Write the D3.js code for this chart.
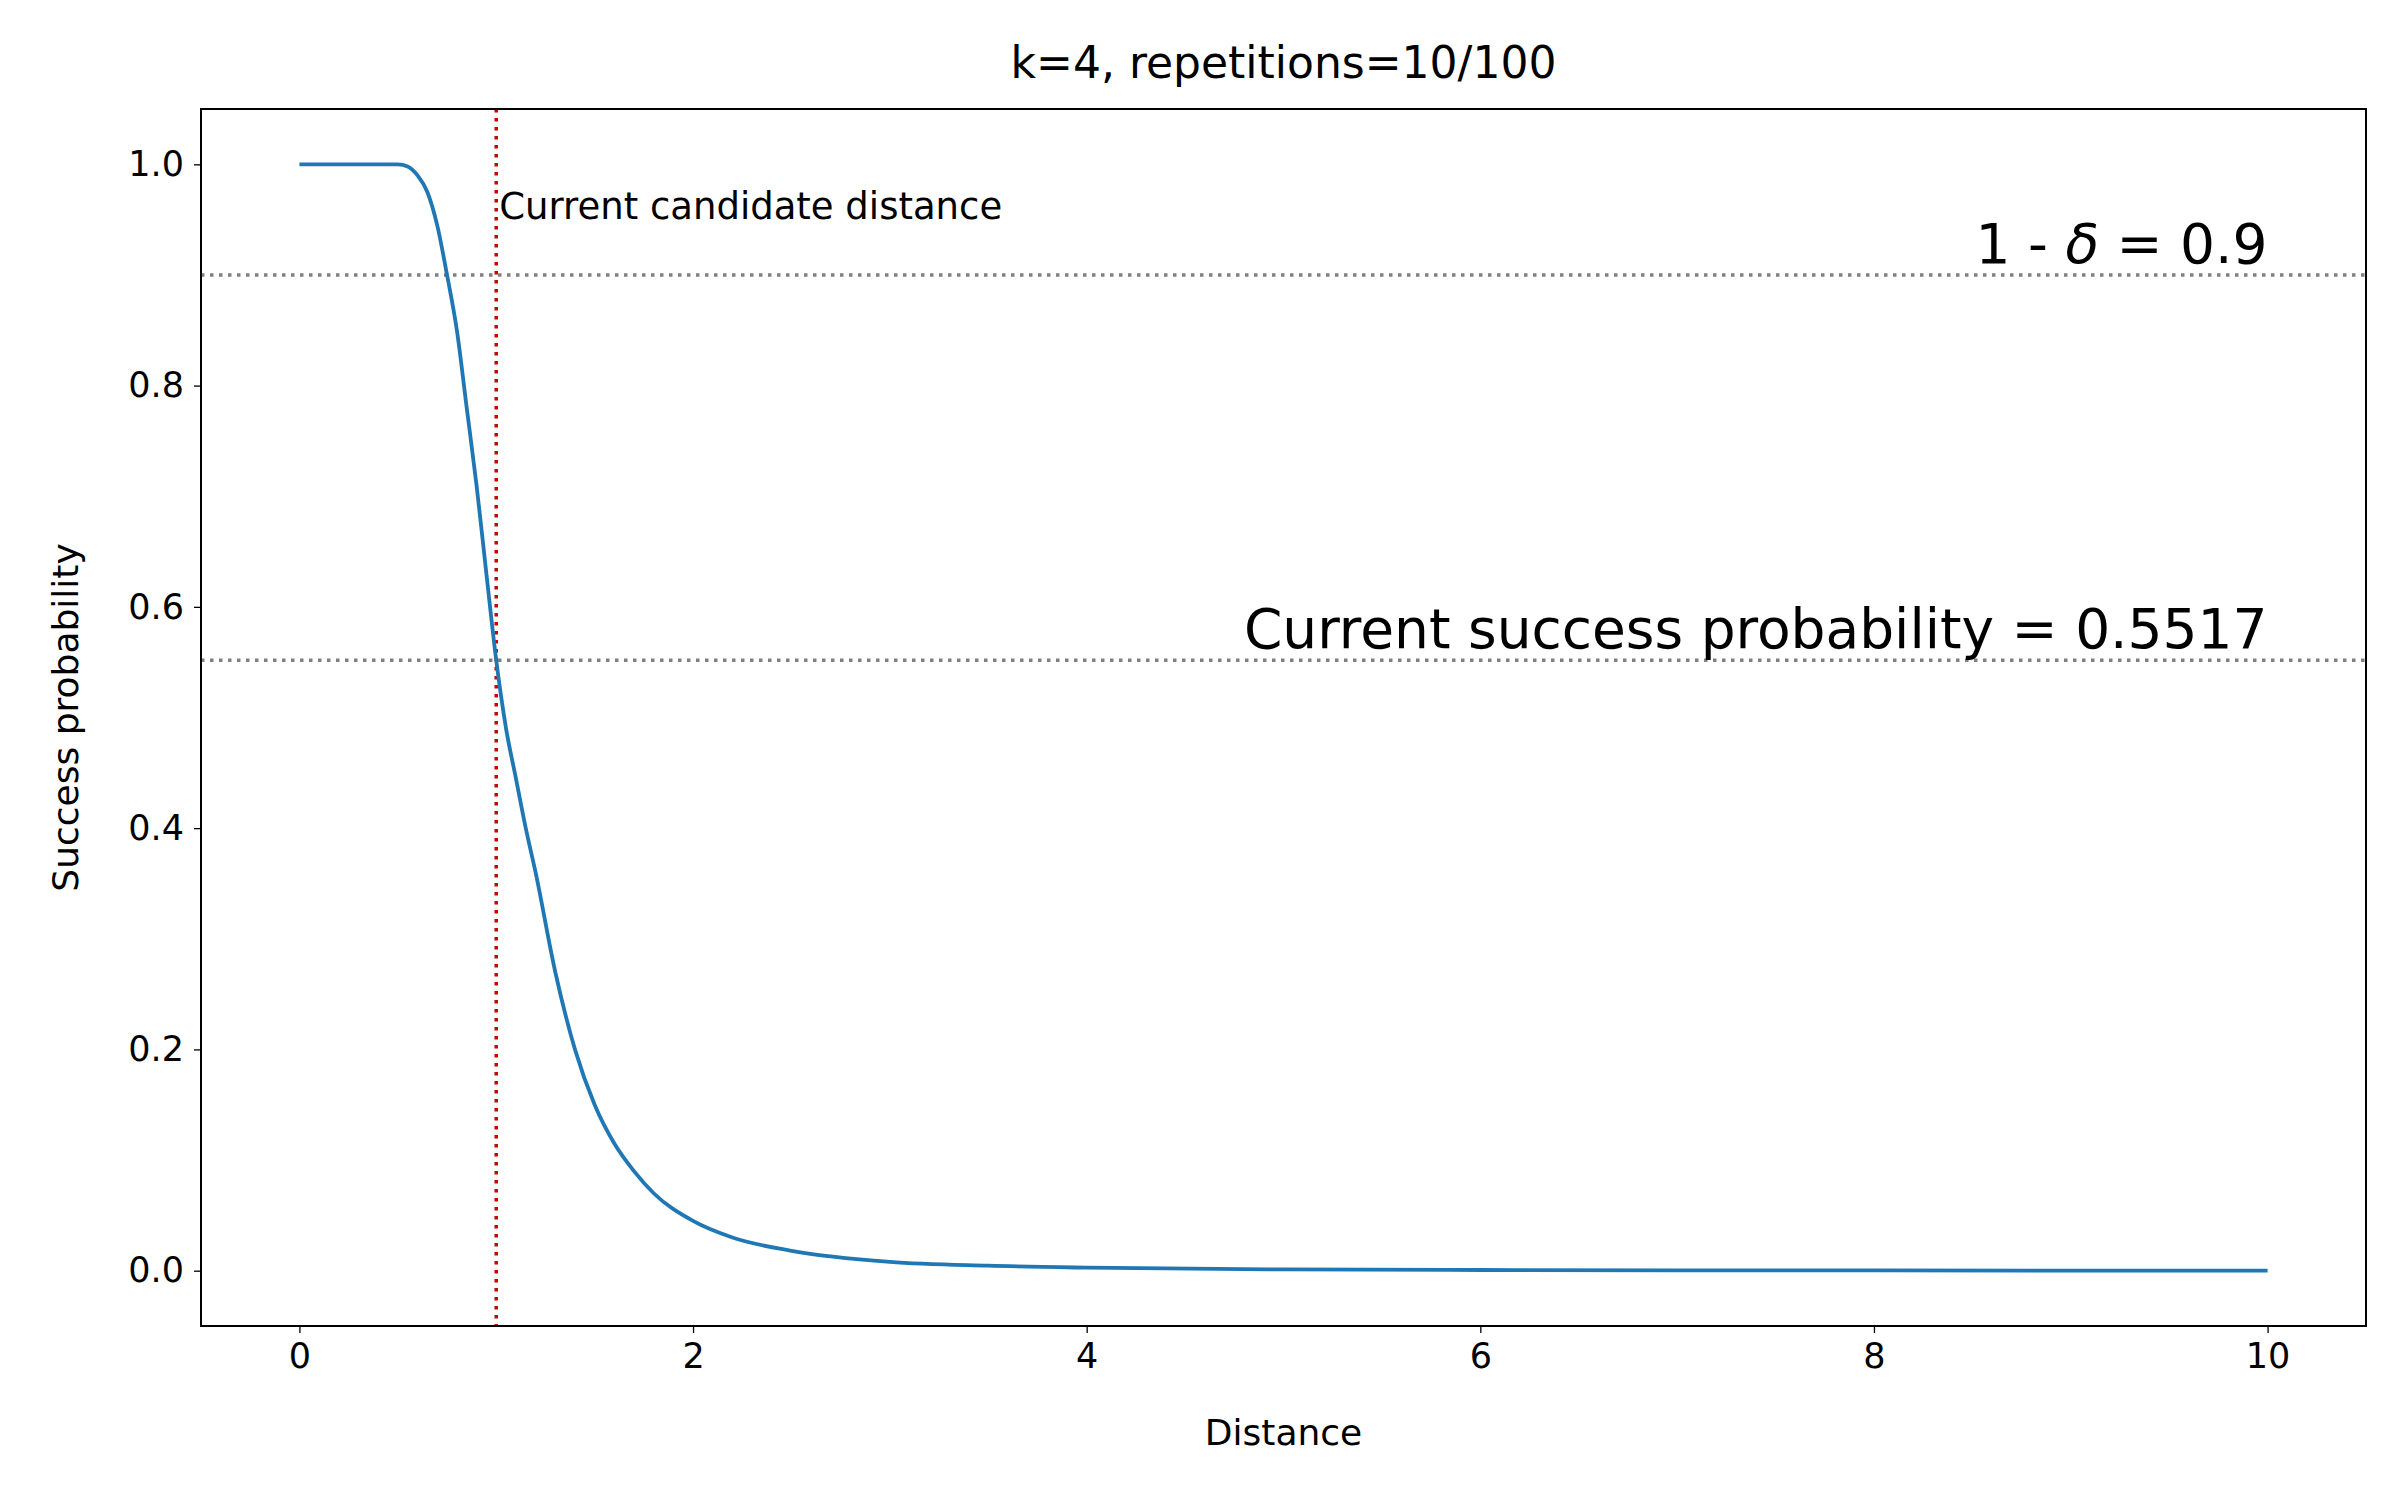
<!DOCTYPE html>
<html>
<head>
<meta charset="utf-8">
<script src="https://d3js.org/d3.v7.min.js"></script>
<style>
  body { margin: 0; background: #fff; }
  text { font-family: "DejaVu Sans", sans-serif; }
</style>
</head>
<body>
<svg id="chart" width="2400" height="1500"></svg>
<script>
// data
var distance = [0, 0.5, 0.55, 0.6, 0.65, 0.7, 0.75, 0.8, 0.85, 0.9, 0.95, 1.0, 1.05, 1.1, 1.15, 1.2, 1.3, 1.4, 1.5, 1.6, 1.7, 1.8, 2.0, 2.2, 2.5, 3, 3.5, 4, 5, 6, 7, 8, 9, 10];
var probability = [1, 1, 0.998, 0.99, 0.975, 0.945, 0.9, 0.85, 0.78, 0.71, 0.63, 0.5517, 0.49, 0.445, 0.4, 0.36, 0.27, 0.2, 0.15, 0.115, 0.09, 0.07, 0.045, 0.03, 0.018, 0.008, 0.0045, 0.0027, 0.0011, 0.0006, 0.0003, 0.0002, 0.0001, 0.0001];
var xTicks = [0, 2, 4, 6, 8, 10];
var yTicks = [0.0, 0.2, 0.4, 0.6, 0.8, 1.0];
var candidate = 1.0;
var delta = 0.9;
var current = 0.5517;

var margin = {top: 109, right: 34, bottom: 174, left: 201},
    width = 2400 - margin.left - margin.right,
    height = 1500 - margin.top - margin.bottom;

var svg = d3.select("#chart");
var g = svg.append("g").attr("transform", "translate(" + margin.left + "," + margin.top + ")");

var x = d3.scaleLinear().domain([-0.5, 10.5]).range([0, width]);
var y = d3.scaleLinear().domain([-0.05, 1.05]).range([height, 0]);

// axes
var xAxis = g.append("g").attr("transform", "translate(0," + height + ")")
    .call(d3.axisBottom(x).tickValues(xTicks).tickFormat(d3.format("d")).tickSize(7).tickPadding(10));
var yAxis = g.append("g")
    .call(d3.axisLeft(y).tickValues(yTicks).tickFormat(d3.format(".1f")).tickSize(7).tickPadding(10));
[xAxis, yAxis].forEach(function (a) {
    a.select(".domain").remove();
    a.selectAll("text").style("font-size", "35px").attr("fill", "#000");
    a.selectAll("line").attr("stroke", "#000").attr("stroke-width", 1.3);
});

// reference lines
g.append("line").attr("x1", 0).attr("x2", width).attr("y1", y(delta)).attr("y2", y(delta))
    .attr("stroke", "gray").attr("stroke-width", 3.5).attr("stroke-dasharray", "3.5,5.5");
g.append("line").attr("x1", 0).attr("x2", width).attr("y1", y(current)).attr("y2", y(current))
    .attr("stroke", "gray").attr("stroke-width", 3.5).attr("stroke-dasharray", "3.5,5.5");
g.append("line").attr("x1", x(candidate)).attr("x2", x(candidate)).attr("y1", 0).attr("y2", height)
    .attr("stroke", "#cc0000").attr("stroke-width", 3.5).attr("stroke-dasharray", "3.5,5.5");

// curve
var pts = distance.map(function (d, i) { return [d, probability[i]]; });
g.append("path").datum(pts)
    .attr("fill", "none").attr("stroke", "#1f77b4").attr("stroke-width", 3.8)
    .attr("d", d3.line().x(function (d) { return x(d[0]); }).y(function (d) { return y(d[1]); }).curve(d3.curveMonotoneX));

// frame
g.append("rect").attr("width", width).attr("height", height)
    .attr("fill", "none").attr("stroke", "#000").attr("stroke-width", 2);

// annotations
g.append("text").attr("x", x(candidate) + 3).attr("y", y(0.951))
    .style("font-size", "37px").text("Current candidate distance");
var t1 = g.append("text").attr("x", x(10)).attr("y", y(delta) - 12)
    .attr("text-anchor", "end").style("font-size", "55px");
t1.append("tspan").text("1 - ");
t1.append("tspan").style("font-style", "italic").text("δ");
t1.append("tspan").text(" = 0.9");
g.append("text").attr("x", x(10)).attr("y", y(current) - 12)
    .attr("text-anchor", "end").style("font-size", "55px")
    .text("Current success probability = 0.5517");

// titles
svg.append("text").attr("x", margin.left + width / 2).attr("y", 78)
    .attr("text-anchor", "middle").style("font-size", "44px").text("k=4, repetitions=10/100");
svg.append("text").attr("x", margin.left + width / 2).attr("y", 1445)
    .attr("text-anchor", "middle").style("font-size", "36px").text("Distance");
svg.append("text").attr("transform", "translate(78," + (margin.top + height / 2) + ") rotate(-90)")
    .attr("text-anchor", "middle").style("font-size", "36px").text("Success probability");
</script>
</body>
</html>
